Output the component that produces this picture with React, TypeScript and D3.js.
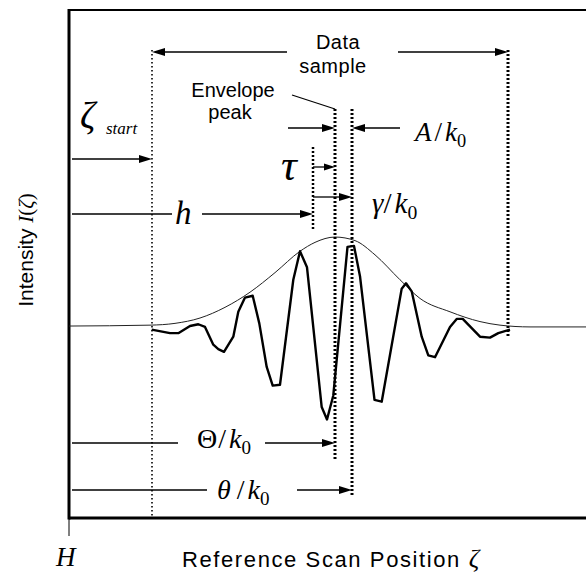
import React from "react";
import * as d3 from "d3";

const W = 586;
const H = 575;

// Key scan positions (scan units, H = 0)
const zetaStart = 8.3;
const sampleEnd = 43.9;
const tauStart = 24.4;
const envelopePeak = 26.6;
const thetaPos = 28.3;

// Sampled interference signal (scan position, intensity)
const signalX = [8.27, 10.1, 10.93, 12.1, 12.93, 13.6, 14.43, 14.93, 15.5, 16.43, 16.93, 17.6, 18.37, 19.03, 19.77, 20.37, 21.1, 22.43, 23.1, 23.8, 25.27, 25.8, 26.43, 27.85, 28.5, 29.1, 30.55, 31.27, 33.27, 33.7, 34.27, 35.27, 35.93, 36.6, 38.1, 38.77, 39.37, 41.1, 42.1, 42.93, 44.1];
const signalY = [-0.04, -0.08, -0.08, 0, 0.02, -0.01, -0.21, -0.26, -0.29, -0.12, 0.16, 0.32, 0.34, 0.03, -0.46, -0.67, -0.66, 0.52, 0.84, 0.66, -0.91, -1.05, -0.78, 0.89, 0.9, 0.56, -0.83, -0.85, 0.42, 0.48, 0.39, -0.12, -0.33, -0.35, -0.01, 0.08, 0.08, -0.12, -0.13, -0.08, -0.04];

// Envelope curve
const envelopeX = [0, 8.1, 10.6, 13.1, 15.6, 18.1, 20.6, 23.1, 24.6, 26.6, 28.6, 30.6, 33.1, 35.1, 38.1, 41.1, 43.1, 46.1, 52];
const envelopeY = [0, 0.01, 0.03, 0.09, 0.21, 0.38, 0.6, 0.84, 0.94, 1.0, 0.96, 0.8, 0.52, 0.31, 0.16, 0.05, 0.01, -0.01, -0.01];

const xLabel = "Reference Scan Position ";
const yLabel = "Intensity ";
const originLabel = "H";

const SANS = "'Liberation Sans', Arial, Helvetica, sans-serif";
const SERIF = "'Liberation Serif', 'Times New Roman', serif";

function Arrow({ x1, x2, y, head = 13, hw = 4 }: { x1: number; x2: number; y: number; head?: number; hw?: number }) {
  const dir = x2 > x1 ? 1 : -1;
  const base = x2 - dir * head;
  return (
    <g>
      <line x1={x1} y1={y} x2={base} y2={y} stroke="#000" strokeWidth={1.3} />
      <polygon points={`${x2},${y} ${base},${y - hw} ${base},${y + hw}`} fill="#000" />
    </g>
  );
}

function Frac({ x, y, sym, symItalic = true, gap = 3, size = 27 }: any) {
  return (
    <text x={x} y={y} fontFamily={SERIF} fontSize={size}>
      <tspan fontStyle={symItalic ? "italic" : "normal"}>{sym}</tspan>
      <tspan dx={gap}>/</tspan>
      <tspan fontStyle="italic" dx={3}>k</tspan>
      <tspan fontSize={size * 0.68} dy={6}>0</tspan>
    </text>
  );
}

export default function App() {
  const x = d3.scaleLinear().domain([0, 52]).range([69, 589]);
  const y = d3.scaleLinear().domain([-2.157, 3.551]).range([518, 10]);

  const sig = d3
    .line<number>()
    .x((_, i) => x(signalX[i]))
    .y((d) => y(d))
    .curve(d3.curveLinear)(signalY) as string;

  const env = d3
    .line<number>()
    .x((_, i) => x(envelopeX[i]))
    .y((d) => y(d))
    .curve(d3.curveMonotoneX)(envelopeY) as string;

  const xs = x(zetaStart);
  const xe = x(sampleEnd);
  const xt = x(tauStart);
  const xp = x(envelopePeak);
  const xth = x(thetaPos);
  const left = x(0);

  return (
    <svg width={W} height={H} style={{ position: "absolute", left: 0, top: 0, background: "#fff" }}>
      <rect width={W} height={H} fill="#fff" />
      {/* frame */}
      <line x1={left} y1={10} x2={W} y2={10} stroke="#000" strokeWidth={2} />
      <line x1={left} y1={9} x2={left} y2={519.5} stroke="#000" strokeWidth={3} />
      <line x1={left} y1={518} x2={W} y2={518} stroke="#000" strokeWidth={3} />
      <line x1={left} y1={518} x2={left} y2={536} stroke="#000" strokeWidth={1} />

      {/* envelope and signal */}
      <path d={env} fill="none" stroke="#222" strokeWidth={1} />
      <path d={sig} fill="none" stroke="#000" strokeWidth={2.4} strokeLinejoin="round" />

      {/* dotted verticals */}
      <line x1={xs} y1={50} x2={xs} y2={518} stroke="#000" strokeWidth={1.6} strokeDasharray="1.6,2.4" />
      <line x1={xe} y1={50} x2={xe} y2={337} stroke="#000" strokeWidth={3} strokeDasharray="2,2" />
      <line x1={xt} y1={147} x2={xt} y2={230} stroke="#000" strokeWidth={2.5} strokeDasharray="2,2" />
      <line x1={xp} y1={109} x2={xp} y2={461} stroke="#000" strokeWidth={3} strokeDasharray="2,2" />
      <line x1={xth} y1={109} x2={xth} y2={496} stroke="#000" strokeWidth={3} strokeDasharray="2,2" />

      {/* data sample */}
      <Arrow x1={287} x2={xs} y={52} />
      <Arrow x1={398} x2={xe} y={52} />
      <text x={338} y={49} textAnchor="middle" fontFamily={SANS} fontSize={20} letterSpacing={0.5}>Data</text>
      <text x={333} y={73} textAnchor="middle" fontFamily={SANS} fontSize={20} letterSpacing={0.5}>sample</text>

      {/* envelope peak */}
      <text x={233} y={97} textAnchor="middle" fontFamily={SANS} fontSize={20}>Envelope</text>
      <text x={230} y={119} textAnchor="middle" fontFamily={SANS} fontSize={20}>peak</text>
      <line x1={292} y1={95} x2={xp} y2={109} stroke="#000" strokeWidth={1.2} />

      {/* A/k0 */}
      <Arrow x1={288} x2={xp} y={128} />
      <Arrow x1={400} x2={xth} y={128} />
      <Frac x={415} y={141} sym="A" />

      {/* zeta start */}
      <text x={80} y={128} fontFamily={SERIF} fontSize={38} fontStyle="italic">ζ</text>
      <text x={106} y={134} fontFamily={SERIF} fontSize={17} fontStyle="italic">start</text>
      <Arrow x1={left + 3} x2={xs} y={159} />

      {/* tau */}
      <text x={281} y={180} fontFamily={SERIF} fontSize={44} fontStyle="italic">τ</text>
      <Arrow x1={xt} x2={xp} y={167} head={11} hw={3.5} />

      {/* gamma */}
      <Arrow x1={xt} x2={xth} y={197} />
      <Frac x={372} y={213} sym="γ" gap={0} size={29} />

      {/* h */}
      <line x1={left + 3} y1={214} x2={172} y2={214} stroke="#000" strokeWidth={1.3} />
      <text x={175} y={224} fontFamily={SERIF} fontSize={33} fontStyle="italic">h</text>
      <Arrow x1={202} x2={xt} y={214} />

      {/* Theta / k0 */}
      <line x1={left + 3} y1={443} x2={178} y2={443} stroke="#000" strokeWidth={1.3} />
      <Frac x={197} y={448} sym="Θ" symItalic={false} gap={1} size={28} />
      <Arrow x1={265} x2={xp} y={443} />

      {/* theta / k0 */}
      <line x1={left + 3} y1={490} x2={207} y2={490} stroke="#000" strokeWidth={1.3} />
      <Frac x={217} y={499} sym="θ" gap={6} size={28} />
      <Arrow x1={297} x2={xth} y={490} />

      {/* axis labels */}
      <text x={56} y={566} fontFamily={SERIF} fontSize={27} fontStyle="italic">{originLabel}</text>
      <text x={182} y={567} fontFamily={SANS} fontSize={22} letterSpacing={1.6}>
        {xLabel}
        <tspan fontFamily={SERIF} fontStyle="italic" fontSize={26} letterSpacing={0}>ζ</tspan>
      </text>
      <text transform="translate(33,250) rotate(-90)" textAnchor="middle" fontFamily={SANS} fontSize={21}>
        {yLabel}
        <tspan fontFamily={SERIF} fontStyle="italic">I</tspan>
        <tspan fontFamily={SERIF}>(</tspan>
        <tspan fontFamily={SERIF} fontStyle="italic">ζ</tspan>
        <tspan fontFamily={SERIF}>)</tspan>
      </text>
    </svg>
  );
}
